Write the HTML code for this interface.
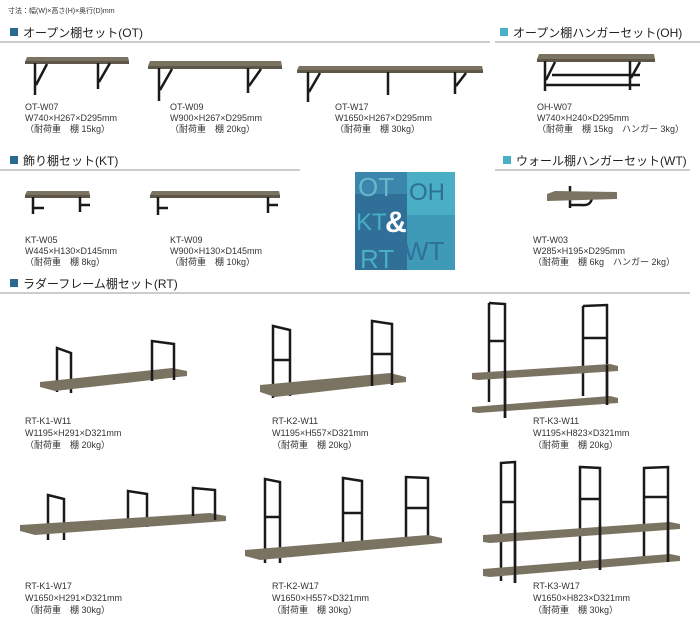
<!DOCTYPE html>
<html><head><meta charset="utf-8"><style>
html,body{margin:0;padding:0;background:#fff;}
svg{display:block;}
text{font-family:"Liberation Sans","Noto Sans CJK JP",sans-serif;fill:#333;}
.h{font-size:12px;fill:#222;}
.l{font-size:9px;fill:#333;}
.w{fill:#7b7362;}
.we{fill:#5e5648;}
.k{stroke:#1a1a1a;stroke-width:2.5;fill:none;}
</style></head><body>
<svg width="700" height="640" viewBox="0 0 700 640" xmlns="http://www.w3.org/2000/svg">
<text x="8" y="13" style="font-size:7px">寸法：幅(W)×高さ(H)×奥行(D)mm</text>

<rect x="10" y="28" width="8" height="8" fill="#2a6a92"/>
<text class="h" x="23" y="37">オープン棚セット(OT)</text>
<line x1="0" y1="42" x2="490" y2="42" stroke="#999" stroke-width="1"/>
<rect x="500" y="28" width="8" height="8" fill="#4aaec4"/>
<text class="h" x="513" y="37">オープン棚ハンガーセット(OH)</text>
<line x1="495" y1="42" x2="700" y2="42" stroke="#999" stroke-width="1"/>

<rect x="10" y="156" width="8" height="8" fill="#2a6a92"/>
<text class="h" x="23" y="165">飾り棚セット(KT)</text>
<line x1="0" y1="170" x2="300" y2="170" stroke="#999" stroke-width="1"/>
<rect x="503" y="156" width="8" height="8" fill="#4aaec4"/>
<text class="h" x="516" y="165">ウォール棚ハンガーセット(WT)</text>
<line x1="495" y1="170" x2="690" y2="170" stroke="#999" stroke-width="1"/>

<rect x="10" y="279" width="8" height="8" fill="#2a6a92"/>
<text class="h" x="23" y="288">ラダーフレーム棚セット(RT)</text>
<line x1="0" y1="293" x2="690" y2="293" stroke="#999" stroke-width="1"/>

<g>
<polygon class="w" points="27,57 128,57 129,61 25,62"/><rect class="we" x="25" y="61" width="104" height="3"/>
<path class="k" d="M35 63V95 M36 85L47 64 M98 63V89 M99 82L110 63"/>
<polygon class="w" points="150,61 281,61 282,66 148,66"/><rect class="we" x="148" y="66" width="134" height="3"/>
<path class="k" d="M159 68V101 M160 90L172 69 M248 68V93 M249 86L261 69"/>
<polygon class="w" points="299,66 482,66 483,70 297,70"/><rect class="we" x="297" y="70" width="186" height="3"/>
<path class="k" d="M308 72V102 M309 92L320 73 M388 72V95 M455 72V94 M456 86L466 73"/>
<polygon class="w" points="539,54 654,54 655,59 537,59"/><rect class="we" x="537" y="59" width="118" height="3"/>
<path class="k" d="M545 61V91 M546 80L555 62 M630 61V90 M631 78L640 62 M552 75H640 M545 85H640"/>
</g>
<text class="l" x="25" y="110">OT-W07</text><text class="l" x="25" y="121">W740×H267×D295mm</text><text class="l" x="25" y="132">（耐荷重　棚 15kg）</text>
<text class="l" x="170" y="110">OT-W09</text><text class="l" x="170" y="121">W900×H267×D295mm</text><text class="l" x="170" y="132">（耐荷重　棚 20kg）</text>
<text class="l" x="335" y="110">OT-W17</text><text class="l" x="335" y="121">W1650×H267×D295mm</text><text class="l" x="335" y="132">（耐荷重　棚 30kg）</text>
<text class="l" x="537" y="110">OH-W07</text><text class="l" x="537" y="121">W740×H240×D295mm</text><text class="l" x="537" y="132">（耐荷重　棚 15kg　ハンガー 3kg）</text>

<polygon class="w" points="27,191 89,191 90,195 25,195"/><rect class="we" x="25" y="195" width="65" height="3"/>
<path class="k" d="M33 197V214 M34 208H44 M80 197V212 M81 205H90"/>
<polygon class="w" points="152,191 279,191 280,195 150,195"/><rect class="we" x="150" y="195" width="130" height="3"/>
<path class="k" d="M158 197V215 M159 208H168 M268 197V213 M269 205H278"/>
<text class="l" x="25" y="243">KT-W05</text><text class="l" x="25" y="254">W445×H130×D145mm</text><text class="l" x="25" y="265">（耐荷重　棚 8kg）</text>
<text class="l" x="170" y="243">KT-W09</text><text class="l" x="170" y="254">W900×H130×D145mm</text><text class="l" x="170" y="265">（耐荷重　棚 10kg）</text>

<rect x="355" y="172" width="100" height="98" fill="#4aaec4"/>
<rect x="355" y="172" width="52" height="98" fill="#2f6f98"/>
<rect x="355" y="172" width="52" height="22" fill="#3b86ac"/>
<rect x="407" y="215" width="48" height="55" fill="#3f9ab8"/>
<text x="358" y="196" style="font-size:26px;fill:#6ab6cc">OT</text>
<text x="409" y="200" style="font-size:24px;fill:#2f6f98">OH</text>
<text x="356" y="230" style="font-size:24px;fill:#4aaec4">KT</text>
<text x="385" y="232" style="font-size:30px;font-weight:bold;fill:#fff">&amp;</text>
<text x="360" y="268" style="font-size:26px;fill:#4aaec4">RT</text>
<text x="404" y="260" style="font-size:26px;fill:#2f6f98">WT</text>

<path class="k" d="M570 186V208 M570 205H582 Q592 206 592 196 V192" />
<polygon class="w" points="547,194 555,191 617,192 617,199 547,201"/>
<text class="l" x="533" y="243">WT-W03</text><text class="l" x="533" y="254">W285×H195×D295mm</text><text class="l" x="533" y="265">（耐荷重　棚 6kg　ハンガー 2kg）</text>

<path class="k" d="M57 392V348L71 353V393"/>
<polygon class="w" points="40,382 172,368 187,371 187,376 55,391 40,387"/>
<path class="k" d="M152 381V341L174 344V380"/>

<path class="k" d="M273 398V326L290 330V396 M274 360H289"/>
<polygon class="w" points="260,385 390,373 406,377 406,382 275,397 260,392"/>
<path class="k" d="M372 386V321L392 324V385 M373 354H391"/>

<path class="k" d="M489 303L505 304V418 M489 303V402 M490 341H504"/>
<path class="k" d="M583 306L607 305V405 M583 306V396 M584 338H606"/>
<polygon class="w" points="472,373 610,364 618,366 618,371 478,380 472,379"/>
<polygon class="w" points="472,407 610,396 618,398 618,403 478,413 472,412"/>
<path class="k" d="M505 370V418 M607 365V405"/>

<text class="l" x="25" y="424">RT-K1-W11</text><text class="l" x="25" y="436">W1195×H291×D321mm</text><text class="l" x="25" y="448">（耐荷重　棚 20kg）</text>
<text class="l" x="272" y="424">RT-K2-W11</text><text class="l" x="272" y="436">W1195×H557×D321mm</text><text class="l" x="272" y="448">（耐荷重　棚 20kg）</text>
<text class="l" x="533" y="424">RT-K3-W11</text><text class="l" x="533" y="436">W1195×H823×D321mm</text><text class="l" x="533" y="448">（耐荷重　棚 20kg）</text>

<path class="k" d="M48 540V495L64 499V540"/>
<path class="k" d="M128 525V491L147 494V527"/>
<polygon class="w" points="20,525 210,513 226,516 226,521 35,535 20,531"/>
<path class="k" d="M193 516V488L215 490V520"/>

<path class="k" d="M265 563V479L280 482V563 M266 517H279"/>
<path class="k" d="M343 550V478L362 481V550 M344 513H361"/>
<path class="k" d="M406 543V477L428 478V540 M407 508H427"/>
<polygon class="w" points="245,550 428,535 442,538 442,543 260,560 245,556"/>

<path class="k" d="M501 581V463L515 462V583 M502 502H514"/>
<path class="k" d="M580 570V467L600 468V570 M581 499H599"/>
<path class="k" d="M644 560V468L668 467V562 M645 497H667"/>
<polygon class="w" points="483,535 670,522 680,524 680,529 490,543 483,542"/>
<polygon class="w" points="483,569 670,554 680,556 680,561 490,577 483,576"/>
<path class="k" d="M515 530V583 M600 525V570 M668 522V562"/>

<text class="l" x="25" y="589">RT-K1-W17</text><text class="l" x="25" y="601">W1650×H291×D321mm</text><text class="l" x="25" y="613">（耐荷重　棚 30kg）</text>
<text class="l" x="272" y="589">RT-K2-W17</text><text class="l" x="272" y="601">W1650×H557×D321mm</text><text class="l" x="272" y="613">（耐荷重　棚 30kg）</text>
<text class="l" x="533" y="589">RT-K3-W17</text><text class="l" x="533" y="601">W1650×H823×D321mm</text><text class="l" x="533" y="613">（耐荷重　棚 30kg）</text>
</svg>
</body></html>
